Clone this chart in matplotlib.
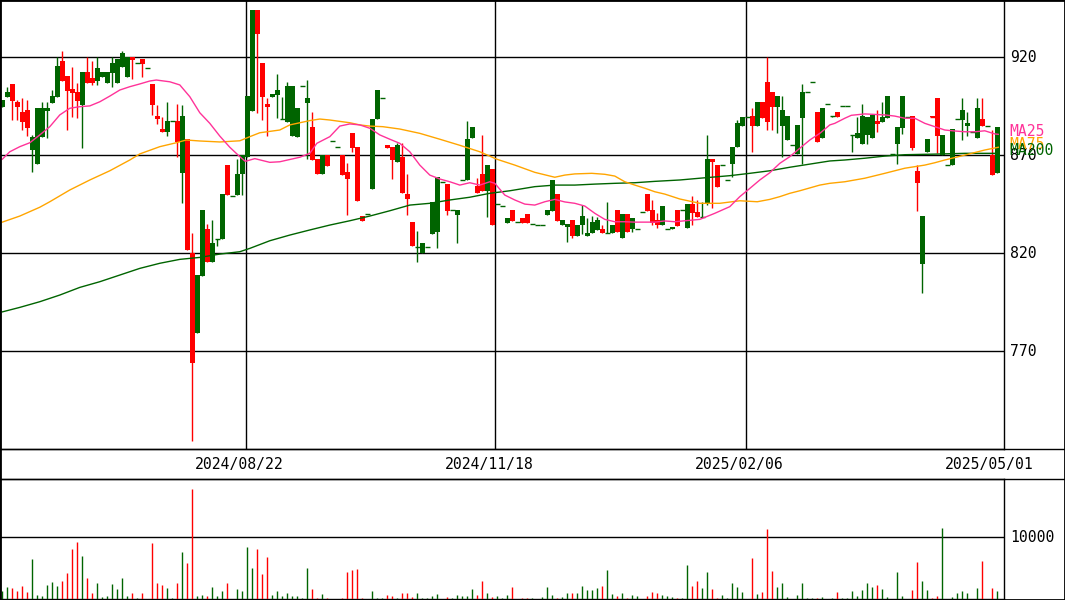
import numpy as np
import matplotlib
matplotlib.use("Agg")
import matplotlib.pyplot as plt
from matplotlib.lines import Line2D
from matplotlib.patches import Rectangle
from matplotlib.transforms import blended_transform_factory

# ---- daily prices (yen), one entry per trading session ----
opens = [894.8, 899.7, 906.4, 897.3, 892.1, 893.1, 872.7, 865.7, 879.5, 892.7,
         896.8, 899.9, 918.1, 910.5, 903.7, 902.3, 895.7, 912.5, 909.6, 907.9,
         910.1, 907.0, 912.1, 907.0, 915.2, 910.1, 920.0, 917.1, 919.1, 914.5,
         906.4, 890.0, 883.4, 882.0, 887.5, 887.5, 861.1, 878.2, 820.0, 779.2,
         808.4, 832.4, 815.7, 827.1, 827.1, 865.0, 849.2, 849.7, 860.3, 869.0,
         892.7, 944.1, 917.1, 896.2, 899.9, 900.7, 888.5, 887.1, 879.8, 879.2,
         905.3, 896.8, 884.4, 868.1, 860.3, 870.1, 877.1, 874.2, 870.1, 861.6,
         881.5, 874.4, 839.0, 839.9, 853.0, 888.4, 899.1, 875.2, 874.4, 866.7,
         869.3, 850.2, 836.0, 823.2, 820.0, 823.1, 830.0, 830.9, 856.2, 855.3,
         842.1, 839.5, 857.4, 857.4, 879.0, 854.3, 860.5, 851.9, 863.0, 845.2,
         844.0, 835.6, 842.1, 836.0, 837.8, 840.0, 834.9, 834.3, 834.3, 839.5,
         841.7, 850.2, 834.6, 833.2, 837.0, 828.8, 834.6, 828.8, 830.2, 831.9,
         832.5, 830.2, 830.2, 842.1, 827.9, 840.0, 832.2, 832.2, 841.0, 850.2,
         842.1, 837.0, 834.4, 832.2, 832.2, 842.1, 842.1, 832.9, 845.2, 841.2,
         838.7, 845.5, 867.9, 865.0, 865.2, 857.4, 865.5, 874.1, 884.9, 889.5,
         890.0, 884.9, 897.2, 907.4, 902.3, 894.8, 884.9, 877.8, 875.1, 870.6,
         889.0, 902.3, 907.4, 892.1, 878.8, 896.2, 890.0, 892.1, 895.2, 895.2,
         880.4, 878.8, 875.7, 880.4, 878.8, 887.5, 887.0, 889.0, 870.6, 875.7,
         883.9, 889.7, 890.0, 862.1, 814.5, 871.7, 890.0, 899.2, 870.0, 865.0,
         864.9, 888.4, 888.0, 885.1, 882.0, 878.8, 888.5, 885.1, 870.0, 861.1]
highs = [898.2, 905.0, 906.4, 898.2, 899.2, 898.2, 880.4, 894.0, 897.2, 897.3,
         903.3, 920.0, 923.4, 910.5, 915.2, 906.7, 912.5, 920.1, 918.1, 920.0,
         912.7, 912.7, 920.0, 919.0, 923.4, 920.0, 920.0, 917.1, 919.1, 914.5,
         906.4, 895.7, 889.7, 897.3, 887.5, 896.0, 895.7, 878.2, 830.2, 808.9,
         842.1, 834.9, 837.0, 827.1, 850.2, 865.0, 849.2, 867.9, 870.1, 900.2,
         944.1, 944.1, 917.1, 899.1, 901.3, 911.5, 899.9, 907.5, 905.3, 894.0,
         905.3, 908.4, 891.9, 868.1, 870.1, 870.1, 877.1, 874.2, 870.1, 866.2,
         881.5, 874.4, 839.0, 839.9, 888.5, 903.3, 899.1, 875.2, 874.4, 876.1,
         876.1, 860.5, 836.0, 831.4, 825.4, 823.1, 846.2, 858.8, 856.2, 855.3,
         842.1, 842.1, 857.4, 887.5, 884.4, 858.3, 880.4, 865.0, 863.0, 845.2,
         844.0, 837.8, 842.1, 836.0, 837.8, 840.0, 834.9, 834.3, 834.3, 842.1,
         857.4, 850.2, 837.0, 834.9, 837.0, 834.4, 844.5, 838.0, 839.0, 838.7,
         834.4, 846.3, 834.4, 842.1, 840.0, 840.0, 837.8, 832.2, 841.0, 850.2,
         847.2, 840.4, 844.1, 832.2, 833.4, 842.1, 842.1, 845.2, 849.2, 847.2,
         846.3, 880.4, 867.9, 865.0, 865.2, 857.4, 874.4, 888.0, 889.7, 889.5,
         894.1, 897.2, 897.2, 920.0, 902.3, 900.2, 900.2, 890.0, 875.1, 885.5,
         906.4, 902.3, 907.4, 892.1, 894.1, 896.2, 890.0, 892.1, 895.2, 895.2,
         880.4, 889.5, 896.2, 889.4, 890.6, 893.1, 897.2, 900.2, 870.6, 884.4,
         900.2, 889.7, 890.0, 864.9, 839.0, 878.2, 890.0, 899.2, 880.2, 865.0,
         883.4, 888.4, 899.2, 892.1, 882.0, 899.2, 899.2, 885.1, 882.9, 884.4]
lows = [894.8, 899.7, 888.0, 888.0, 882.9, 879.8, 861.6, 865.7, 879.5, 879.0,
        896.8, 899.9, 907.9, 882.9, 889.7, 888.9, 873.9, 907.0, 905.9, 905.9,
        910.1, 907.0, 905.0, 907.0, 915.2, 910.1, 909.1, 917.1, 910.1, 914.5,
        890.6, 886.0, 882.0, 879.8, 887.5, 869.3, 845.8, 821.7, 724.4, 779.2,
        808.4, 815.7, 815.7, 823.7, 827.1, 849.7, 849.2, 849.7, 849.7, 869.0,
        892.7, 891.7, 888.0, 879.8, 899.9, 889.2, 888.5, 887.1, 879.8, 879.2,
        905.3, 867.9, 867.6, 860.3, 860.3, 864.7, 877.1, 874.2, 859.9, 839.5,
        871.8, 846.8, 836.6, 839.9, 853.0, 888.4, 899.1, 873.9, 857.9, 866.7,
        850.9, 839.5, 823.9, 815.7, 820.0, 823.1, 830.0, 822.7, 856.2, 839.5,
        842.1, 825.1, 857.4, 857.4, 879.0, 850.9, 851.9, 838.7, 834.4, 845.2,
        844.0, 835.6, 836.6, 836.0, 835.6, 835.6, 834.9, 834.3, 834.3, 839.5,
        841.7, 836.6, 834.6, 825.9, 827.8, 828.8, 829.8, 828.8, 830.2, 831.9,
        830.2, 830.2, 830.2, 831.0, 827.9, 831.0, 831.0, 832.2, 841.0, 841.7,
        834.4, 832.7, 834.4, 832.2, 832.2, 833.9, 842.1, 832.9, 834.4, 838.7,
        838.7, 844.6, 842.9, 854.0, 865.2, 857.4, 859.1, 874.1, 884.9, 889.5,
        871.8, 884.9, 889.0, 882.9, 882.9, 881.2, 869.3, 877.8, 875.1, 870.6,
        865.5, 902.3, 907.4, 876.8, 878.8, 896.2, 889.7, 889.4, 895.2, 895.2,
        871.8, 878.8, 875.7, 875.7, 878.8, 881.9, 887.0, 889.0, 870.6, 865.5,
        880.9, 889.7, 872.7, 841.7, 799.6, 871.7, 889.7, 871.0, 870.0, 865.0,
        864.9, 888.4, 877.8, 879.8, 882.0, 878.8, 885.1, 885.1, 860.1, 861.1]
closes = [898.2, 902.3, 897.9, 894.8, 887.1, 884.1, 879.5, 894.0, 894.0, 894.3,
          900.2, 915.6, 907.9, 903.0, 901.9, 897.9, 912.5, 907.0, 907.0, 914.7,
          912.7, 912.7, 916.9, 919.0, 922.0, 920.0, 918.6, 917.1, 916.7, 914.5,
          895.7, 888.4, 882.0, 887.5, 887.5, 877.0, 890.0, 821.7, 763.9, 808.9,
          842.1, 815.7, 825.1, 827.1, 850.2, 849.7, 849.2, 860.5, 870.1, 900.2,
          944.1, 932.0, 899.9, 894.8, 901.3, 903.3, 888.5, 905.3, 905.3, 894.0,
          905.3, 899.1, 867.6, 860.3, 870.1, 864.7, 877.1, 874.2, 859.9, 857.9,
          873.9, 846.8, 836.6, 839.9, 888.5, 903.3, 899.1, 873.9, 867.6, 875.2,
          850.9, 847.7, 823.9, 823.2, 825.4, 823.1, 846.2, 858.8, 856.2, 841.7,
          842.1, 842.1, 857.4, 878.3, 884.4, 850.9, 851.9, 865.0, 834.4, 845.2,
          844.0, 837.8, 836.6, 836.0, 835.6, 835.6, 834.9, 834.3, 834.3, 842.1,
          857.4, 836.6, 837.0, 834.9, 828.8, 834.4, 839.0, 830.2, 836.1, 837.0,
          830.2, 830.2, 834.4, 831.0, 840.0, 831.0, 837.8, 832.2, 841.0, 841.7,
          835.6, 834.4, 844.1, 832.2, 833.4, 833.9, 842.1, 845.2, 840.7, 838.7,
          838.7, 867.9, 866.6, 854.0, 865.2, 857.4, 874.4, 886.6, 889.7, 889.5,
          884.9, 897.2, 889.0, 887.1, 894.8, 900.2, 893.1, 890.0, 875.1, 885.5,
          902.3, 902.3, 907.4, 876.8, 894.1, 896.2, 890.0, 889.4, 895.2, 895.2,
          880.4, 881.2, 890.0, 889.4, 890.6, 886.0, 889.5, 900.2, 870.6, 884.4,
          900.2, 889.7, 873.7, 856.0, 839.0, 878.2, 889.7, 879.8, 880.2, 865.0,
          883.4, 888.4, 893.1, 886.5, 882.0, 894.1, 885.1, 885.1, 860.1, 884.4]

# ---- daily volume (shares) ----
volumes = [1296, 1944, 1782, 1296, 2106, 1134, 6480, 648, 486, 2268,
           2754, 2106, 2916, 4212, 8100, 9234, 6966, 3402, 972, 2592,
           324, 486, 2430, 1620, 3402, 486, 972, 162, 972, 0,
           9072, 2592, 2268, 1782, 162, 2592, 7614, 5832, 17820, 486,
           648, 486, 1944, 486, 1296, 2592, 0, 1620, 1296, 8424,
           5022, 8100, 4050, 6804, 648, 1296, 486, 972, 486, 486,
           162, 5022, 1620, 162, 810, 162, 0, 0, 162, 4374,
           4698, 4860, 162, 0, 1296, 162, 162, 648, 486, 162,
           972, 972, 324, 972, 162, 162, 486, 810, 0, 324,
           162, 648, 486, 486, 1620, 648, 2916, 972, 324, 486,
           162, 648, 1944, 0, 162, 162, 162, 0, 324, 1944,
           648, 162, 324, 972, 972, 972, 2106, 1458, 1458, 1782,
           2106, 4698, 810, 486, 972, 162, 648, 486, 0, 486,
           1134, 972, 648, 486, 324, 162, 162, 5508, 2106, 2916,
           1782, 4374, 1620, 162, 648, 162, 2592, 1944, 1134, 0,
           6642, 810, 1134, 11340, 4536, 1944, 2592, 324, 0, 648,
           2592, 162, 162, 162, 324, 0, 162, 1134, 162, 162,
           1296, 486, 1458, 2592, 1944, 2268, 1620, 324, 0, 4374,
           486, 0, 1458, 5994, 2916, 1458, 162, 486, 11502, 0,
           324, 972, 1296, 972, 0, 1782, 6156, 0, 1782, 1296]

# ---- moving averages (session index, value) ----
ma25_at = [0, 1.5, 3.5, 5.5, 7.5, 9.5, 11.5, 13.5, 15.5, 17.5,
           19.5, 21.5, 23.5, 25.5, 27.5, 29.5, 30.8, 33.5, 35.5, 37.5,
           39.5, 41.5, 43.5, 45.5, 47.5, 48.6, 50.5, 53.5, 55.5, 59.5,
           61.5, 62.9, 65.5, 67.5, 69.5, 71.5, 73.5, 75.5, 77.5, 79.5,
           81.5, 83.5, 85.5, 87.5, 89.5, 91.5, 93.5, 95.5, 97.5, 98.5,
           100.5, 102.5, 104.5, 106.5, 108.5, 110.5, 112.5, 114.5, 116.5, 118.5,
           120.5, 122.5, 124.5, 126.5, 128.5, 130.5, 132.5, 134.5, 139.5, 142.5,
           145.5, 147.5, 149.5, 151.5, 153.5, 155.5, 157.5, 159.5, 161.5, 163.5,
           165.5, 166.5, 168.5, 169.8, 172.5, 176.5, 178.5, 180.5, 182.5, 184.5,
           186.5, 188.5, 190.5, 192.5, 194.5, 196.5, 198.5, 199.2]
ma25 = [868.0, 871.8, 874.4, 876.4, 880.4, 884.6, 890.6, 894.0, 894.8, 895.2,
        897.3, 900.2, 903.3, 905.0, 906.4, 907.9, 908.4, 907.5, 905.9, 899.9,
        891.7, 886.3, 879.8, 874.1, 869.3, 866.9, 868.3, 866.4, 866.7, 869.0,
        871.0, 876.1, 879.5, 884.9, 886.0, 885.5, 883.8, 880.4, 878.2, 876.1,
        871.8, 865.0, 859.9, 857.9, 856.5, 854.8, 856.0, 854.8, 856.5, 855.7,
        849.7, 847.2, 845.1, 844.6, 846.3, 847.5, 846.2, 845.5, 844.1, 840.4,
        837.3, 836.1, 836.1, 835.9, 835.9, 835.9, 836.5, 836.1, 837.3, 840.4,
        843.8, 848.9, 853.1, 857.4, 861.1, 865.9, 869.3, 873.6, 877.8, 881.2,
        885.5, 886.3, 888.9, 890.4, 891.1, 890.6, 890.0, 888.9, 888.9, 886.3,
        884.6, 882.9, 882.4, 882.0, 882.0, 882.5, 880.9, 880.7]

ma75_at = [0, 3.5, 7.5, 9.5, 13.5, 17.5, 21.5, 25.5, 27.5, 31.5,
           34.8, 36.8, 39.5, 43.5, 47.5, 49.5, 51.5, 55.5, 57.5, 61.5,
           63.5, 65.5, 69.5, 71.5, 73.5, 76.1, 79.5, 83.5, 87.5, 91.5,
           95.5, 98.9, 102.5, 106.5, 110.5, 112.5, 114.5, 117.9, 120.5, 122.5,
           124.5, 126.5, 128.5, 130.5, 132.5, 135.5, 139.5, 143.5, 147.5, 151,
           153.5, 155.5, 157.5, 159.5, 163.5, 165.5, 168.5, 172.5, 176.5, 180.5,
           184.5, 186.5, 188.5, 192.5, 196.5, 199.2]
ma75 = [835.9, 839.0, 843.5, 846.3, 852.3, 857.4, 862.1, 867.6, 870.7, 874.4,
        876.4, 877.8, 877.3, 876.8, 877.4, 879.5, 881.5, 882.9, 885.5, 887.7,
        888.5, 888.0, 886.6, 885.5, 884.9, 884.6, 883.4, 881.2, 878.2, 875.1,
        871.8, 868.0, 865.0, 861.3, 858.8, 859.9, 860.5, 860.8, 860.3, 859.4,
        856.5, 854.8, 853.2, 851.4, 850.2, 847.7, 845.5, 845.5, 846.8, 846.3,
        847.5, 848.9, 850.6, 851.9, 854.8, 855.7, 856.5, 858.3, 860.8, 863.4,
        865.0, 866.2, 867.6, 870.1, 872.7, 874.1]

ma200_at = [0, 3.5, 7.5, 11.5, 15.5, 19.5, 23.5, 27.5, 31.5, 35.5,
            39.5, 43.5, 47.5, 49.5, 53.5, 57.5, 61.5, 65.5, 69.5, 73.5,
            77.5, 81.5, 85.5, 89.5, 93.5, 97.5, 101.5, 106.5, 110.5, 114.5,
            118.5, 122.5, 126.5, 130.5, 135.5, 139.5, 145.5, 149.5, 153.5, 157.5,
            161.5, 165.5, 168.5, 172.5, 176.5, 180.5, 186.5, 192.5, 199.2]
ma200 = [790.1, 792.4, 795.3, 798.7, 802.6, 805.5, 808.9, 812.3, 814.9, 816.9,
         817.9, 819.6, 820.8, 822.5, 826.4, 829.3, 831.9, 834.4, 836.6, 839.0,
         841.7, 844.6, 845.5, 847.2, 848.6, 850.6, 851.9, 854.0, 854.8, 854.8,
         855.3, 855.7, 856.0, 856.7, 857.4, 858.3, 859.6, 860.8, 862.1, 863.9,
         865.5, 867.1, 867.6, 868.5, 869.6, 870.3, 870.6, 871.0, 871.0]

price_ticks = [920, 870, 820, 770]
volume_ticks = [10000]
date_labels = ["2024/08/22", "2024/11/18", "2025/02/06", "2025/05/01"]
date_grid_at = [48.74, 98.54, 148.74]

UP = "#006400"
DOWN = "#ff0000"
MA_COLORS = {"MA25": "#ff3399", "MA75": "#ffa500", "MA200": "#006400"}
FONT = dict(family="DejaVu Sans Mono", fontsize=10.6)

W, H = 1065, 600
fig = plt.figure(figsize=(W / 100, H / 100), dpi=100)
fig.patch.set_facecolor("white")


def pixel_axes(x0, y0, x1, y1):
    return fig.add_axes([x0 / W, 1 - y1 / H, (x1 - x0) / W, (y1 - y0) / H])


ax = pixel_axes(0, 0, 1004, 449)
axv = pixel_axes(0, 479, 1004, 599)

n = len(closes)
x = np.arange(n)
o = np.array(opens)
h = np.array(highs)
l = np.array(lows)
c = np.array(closes)
colors = np.where(c >= o, UP, DOWN)

for a in (ax, axv):
    a.set_xlim(-0.46, 200.34)
    a.set_xticks([])
    a.set_yticks([])
    for s in a.spines.values():
        s.set_color("black")
        s.set_linewidth(1)

ax.set_ylim(720.15, 949.23)
axv.set_ylim(0, 19450)

# grid
for p in price_ticks:
    ax.axhline(p, color="black", lw=1, zorder=1)
for g in date_grid_at:
    ax.axvline(g, color="black", lw=1, zorder=1)
for v in volume_ticks:
    axv.axhline(v, color="black", lw=1, zorder=1)

# candles
ax.vlines(x, l, h, colors=colors, lw=1, zorder=3)
body_lo = np.minimum(o, c)
body_h = np.abs(c - o)
ax.bar(x, body_h, bottom=body_lo, width=0.92, color=colors, lw=0, zorder=4)
flat = body_h < 0.6
ax.hlines(c[flat], x[flat] - 0.46, x[flat] + 0.46, colors=colors[flat], lw=1, zorder=4)

# moving averages
ax.plot(ma200_at, ma200, color=MA_COLORS["MA200"], lw=1, zorder=5)
ax.plot(ma75_at, ma75, color=MA_COLORS["MA75"], lw=1, zorder=5)
ax.plot(ma25_at, ma25, color=MA_COLORS["MA25"], lw=1, zorder=5)

# volume
axv.vlines(x, 0, volumes, colors=colors, lw=1, zorder=3)

# right-side labels
tp = blended_transform_factory(ax.transAxes, ax.transData)
for p in price_ticks:
    ax.text(1010 / 1004, p, str(p), transform=tp, ha="left", va="center",
            color="black", clip_on=False, **FONT)
for name, series in (("MA25", ma25), ("MA75", ma75), ("MA200", ma200)):
    ax.text(1009 / 1004, series[-1] + 1.5, name, transform=tp, ha="left",
            va="center", color=MA_COLORS[name], clip_on=False, **FONT)
tv = blended_transform_factory(axv.transAxes, axv.transData)
for v in volume_ticks:
    axv.text(1010 / 1004, v, str(v), transform=tv, ha="left", va="center",
             color="black", clip_on=False, **FONT)

# date strip
for yy in (449, 479):
    fig.add_artist(Line2D([0, 1], [1 - yy / H, 1 - yy / H], transform=fig.transFigure,
                          color="black", lw=1))
for label, px in zip(date_labels, [239.5, 489.3, 739.7, 989.0]):
    fig.text(px / W, 1 - 464.5 / H, label, ha="center", va="center", color="black", **FONT)

# outer frame
fig.add_artist(Rectangle((0, 0), 1, 1, transform=fig.transFigure, fill=False,
                         edgecolor="black", lw=2))

fig.savefig("out.png", dpi=100, facecolor="white")
